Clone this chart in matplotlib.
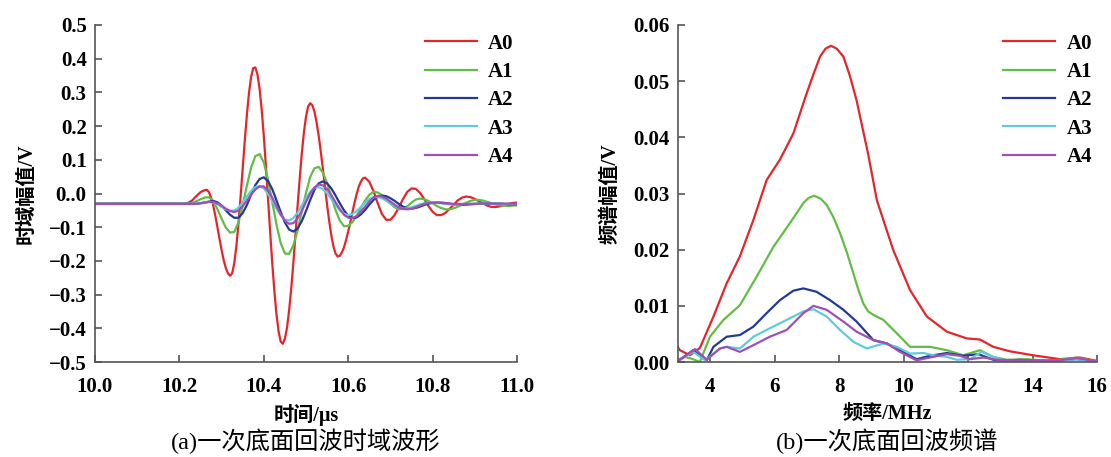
import numpy as np
import matplotlib.pyplot as plt

plt.rcParams['font.family'] = ['Liberation Serif', 'Noto Sans CJK SC']
plt.rcParams['axes.unicode_minus'] = True

# ----- (a) time-domain waveform, sampled every 0.01 us from 10.20 to 11.00 --
T_US = [10.0] + [round(10.20 + 0.01 * i, 2) for i in range(81)]
# A0 is read more finely (0.005 us) over its large swings
T_A0 = ([10.0] + [round(10.20 + 0.01 * i, 2) for i in range(7)]
        + [round(10.265 + 0.005 * i, 3) for i in range(76)]
        + [round(10.65 + 0.01 * i, 2) for i in range(36)])

A0_T = [-0.029,
        -0.029, -0.029, -0.028, -0.021, -0.008, 0.004, 0.010,
        0.011, 0.004, -0.012, -0.035, -0.065, -0.099, -0.134, -0.168, -0.198, -0.221,
        -0.237, -0.244, -0.237, -0.207, -0.156, -0.089, -0.010, 0.075, 0.158, 0.235,
        0.300, 0.346, 0.372, 0.374, 0.353, 0.311, 0.249, 0.171, 0.081, -0.016,
        -0.113, -0.206, -0.289, -0.358, -0.409, -0.439, -0.446, -0.431, -0.398, -0.347,
        -0.282, -0.206, -0.123, -0.038, 0.043, 0.118, 0.181, 0.228, 0.258, 0.268,
        0.262, 0.243, 0.212, 0.172, 0.125, 0.073, 0.019, -0.034, -0.082, -0.124,
        -0.157, -0.178, -0.187, -0.185, -0.175, -0.160, -0.138, -0.113, -0.085, -0.056,
        -0.027, -0.002, 0.020, 0.035, 0.045, 0.047,
        0.035, 0.007, -0.029, -0.061, -0.078,
        -0.078, -0.064, -0.041, -0.016, 0.005, 0.015, 0.014, 0.002, -0.016, -0.037,
        -0.054, -0.064, -0.064, -0.058, -0.046, -0.033, -0.020, -0.012, -0.009, -0.011,
        -0.016, -0.023, -0.030, -0.036, -0.040, -0.040, -0.038, -0.035, -0.031, -0.028,
        -0.027]
A1_T = [-0.030,
        -0.030, -0.030, -0.030, -0.028, -0.023, -0.017, -0.012, -0.011, -0.022, -0.046,
        -0.075, -0.101, -0.116, -0.114, -0.086, -0.035, 0.024, 0.077, 0.111, 0.117,
        0.092, 0.041, -0.025, -0.092, -0.147, -0.178, -0.179, -0.154, -0.110, -0.054,
        0.002, 0.049, 0.075, 0.079, 0.062, 0.031, -0.009, -0.049, -0.080, -0.097,
        -0.096, -0.085, -0.066, -0.043, -0.021, -0.004, 0.005, 0.003, -0.005, -0.017,
        -0.030, -0.041, -0.047, -0.045, -0.038, -0.027, -0.018, -0.015, -0.017, -0.022,
        -0.029, -0.037, -0.043, -0.047, -0.047, -0.044, -0.039, -0.033, -0.027, -0.022,
        -0.019, -0.019, -0.021, -0.025, -0.029, -0.033, -0.035, -0.036, -0.037, -0.036,
        -0.035]
A2_T = [-0.031,
        -0.031, -0.031, -0.030, -0.030, -0.030, -0.029, -0.027, -0.024, -0.022, -0.026,
        -0.036, -0.050, -0.063, -0.072, -0.072, -0.058, -0.034, -0.003, 0.025, 0.043,
        0.048, 0.037, 0.013, -0.020, -0.055, -0.086, -0.107, -0.113, -0.104, -0.082,
        -0.052, -0.019, 0.011, 0.030, 0.036, 0.030, 0.015, -0.006, -0.029, -0.050,
        -0.066, -0.073, -0.071, -0.062, -0.049, -0.033, -0.019, -0.010, -0.006, -0.008,
        -0.014, -0.022, -0.031, -0.039, -0.044, -0.045, -0.043, -0.039, -0.034, -0.030,
        -0.028, -0.027, -0.027, -0.028, -0.030, -0.032, -0.033, -0.034, -0.033, -0.032,
        -0.031, -0.030, -0.030, -0.030, -0.030, -0.030, -0.030, -0.031, -0.032, -0.033,
        -0.034]
A3_T = [-0.030,
        -0.030, -0.030, -0.030, -0.030, -0.030, -0.028, -0.026, -0.025, -0.027, -0.032,
        -0.040, -0.047, -0.051, -0.051, -0.042, -0.027, -0.009, 0.008, 0.019, 0.022,
        0.015, -0.001, -0.022, -0.045, -0.064, -0.077, -0.080, -0.073, -0.057, -0.036,
        -0.014, 0.005, 0.017, 0.019, 0.013, 0.000, -0.016, -0.034, -0.050, -0.060,
        -0.064, -0.061, -0.052, -0.040, -0.027, -0.017, -0.011, -0.011, -0.014, -0.021,
        -0.030, -0.037, -0.043, -0.045, -0.044, -0.041, -0.037, -0.032, -0.029, -0.027,
        -0.027, -0.028, -0.029, -0.031, -0.032, -0.033, -0.033, -0.032, -0.031, -0.031,
        -0.030, -0.030, -0.030, -0.030, -0.030, -0.030, -0.030, -0.031, -0.031, -0.032,
        -0.032]
A4_T = [-0.031,
        -0.031, -0.031, -0.031, -0.031, -0.031, -0.029, -0.027, -0.025, -0.025, -0.029,
        -0.036, -0.045, -0.052, -0.055, -0.051, -0.038, -0.021, -0.003, 0.012, 0.021,
        0.021, 0.009, -0.012, -0.037, -0.062, -0.081, -0.090, -0.088, -0.074, -0.052,
        -0.025, 0.000, 0.018, 0.027, 0.024, 0.013, -0.005, -0.026, -0.046, -0.063,
        -0.072, -0.073, -0.067, -0.054, -0.039, -0.024, -0.012, -0.007, -0.009, -0.015,
        -0.024, -0.033, -0.042, -0.046, -0.047, -0.045, -0.041, -0.036, -0.031, -0.028,
        -0.027, -0.027, -0.028, -0.029, -0.030, -0.031, -0.031, -0.031, -0.031, -0.031,
        -0.031, -0.030, -0.030, -0.030, -0.030, -0.030, -0.030, -0.030, -0.030, -0.030,
        -0.030]

# ----- (b) spectrum, read as (frequency MHz, amplitude V) ------------------
A0_F = [3.0, 3.06, 3.37, 3.68, 4.10, 4.51, 4.92, 5.34, 5.75, 6.16, 6.58, 6.99, 7.20,
        7.41, 7.58, 7.75, 7.92, 8.13, 8.33, 8.54, 8.72, 8.90, 9.17, 9.68, 10.20,
        10.72, 11.34, 11.96, 12.37, 12.78, 13.30, 14.02, 14.85, 15.47, 16.0]
A0_S = [0.0026, 0.0021, 0.0012, 0.0025, 0.0081, 0.0140, 0.0188, 0.0253, 0.0324,
        0.0360, 0.0407, 0.0478, 0.0512, 0.0544, 0.0558, 0.0563, 0.0558, 0.0544,
        0.0510, 0.0466, 0.0418, 0.0370, 0.0288, 0.0199, 0.0128, 0.0081, 0.0054,
        0.0042, 0.0040, 0.0027, 0.0019, 0.0012, 0.0005, 0.0008, 0.0002]
A1_F = [3.0, 3.2, 3.42, 3.68, 3.99, 4.41, 4.92, 5.44, 5.96, 6.47, 6.89, 7.05, 7.22,
        7.42, 7.61, 7.82, 8.03, 8.24, 8.44, 8.60, 8.75, 8.90, 9.06, 9.37, 9.79,
        10.20, 10.82, 11.34, 11.85, 12.37, 12.78, 13.20, 13.82, 14.44, 14.85, 15.37,
        16.0]
A1_S = [0.0004, 0.0009, 0.0006, 0.0000, 0.0045, 0.0075, 0.0101, 0.0152, 0.0205,
        0.0247, 0.0283, 0.0292, 0.0296, 0.0291, 0.0280, 0.0258, 0.0229, 0.0195,
        0.0158, 0.0128, 0.0104, 0.0090, 0.0084, 0.0075, 0.0051, 0.0027, 0.0027,
        0.0021, 0.0012, 0.0021, 0.0009, 0.0004, 0.0005, 0.0002, 0.0004, 0.0008,
        0.0001]
A2_F = [3.0, 3.06, 3.47, 3.89, 4.10, 4.51, 4.92, 5.34, 5.75, 6.16, 6.58, 6.89, 7.30,
        7.72, 8.13, 8.54, 9.06, 9.48, 9.89, 10.40, 10.82, 11.34, 11.85, 12.32,
        12.78, 13.20, 13.60, 14.20, 14.85, 15.37, 16.0]
A2_S = [0.0003, 0.0004, 0.0021, 0.0003, 0.0027, 0.0045, 0.0048, 0.0063, 0.0087,
        0.0110, 0.0127, 0.0131, 0.0125, 0.0110, 0.0093, 0.0072, 0.0039, 0.0033,
        0.0021, 0.0005, 0.0011, 0.0016, 0.0011, 0.0014, 0.0004, 0.0002, 0.0004,
        0.0001, 0.0003, 0.0005, 0.0001]
A3_F = [3.0, 3.06, 3.47, 3.84, 4.30, 4.51, 4.92, 5.34, 5.85, 6.37, 6.89, 7.20, 7.61,
        8.03, 8.44, 8.86, 9.37, 9.79, 10.20, 10.61, 10.93, 11.34, 11.65, 12.06,
        12.42, 12.78, 13.20, 14.0, 14.85, 15.37, 16.0]
A3_S = [0.0003, 0.0004, 0.0018, 0.0003, 0.0024, 0.0027, 0.0024, 0.0045, 0.0060,
        0.0075, 0.0090, 0.0094, 0.0081, 0.0057, 0.0036, 0.0024, 0.0033, 0.0027,
        0.0015, 0.0016, 0.0012, 0.0009, 0.0004, 0.0005, 0.0018, 0.0009, 0.0002,
        0.0002, 0.0003, 0.0005, 0.0001]
A4_F = [3.0, 3.06, 3.53, 3.89, 4.30, 4.51, 4.92, 5.34, 5.85, 6.37, 6.89, 7.20, 7.61,
        8.13, 8.54, 9.06, 9.48, 9.89, 10.40, 10.82, 11.34, 11.75, 12.06, 12.48,
        12.88, 13.5, 14.3, 14.85, 15.37, 16.0]
A4_S = [0.0003, 0.0004, 0.0023, 0.0004, 0.0024, 0.0027, 0.0018, 0.0030, 0.0045,
        0.0057, 0.0087, 0.0100, 0.0093, 0.0072, 0.0054, 0.0039, 0.0033, 0.0018,
        0.0003, 0.0008, 0.0014, 0.0011, 0.0005, 0.0008, 0.0004, 0.0003, 0.0003,
        0.0003, 0.0007, 0.0001]

LABELS = ['A0', 'A1', 'A2', 'A3', 'A4']
COLORS = ['#e4262b', '#62bd45', '#233a95', '#5fcbdc', '#a24fb5']

T_TICKS = [10.0, 10.2, 10.4, 10.6, 10.8, 11.0]
V_TICKS = [-0.5, -0.4, -0.3, -0.2, -0.1, 0.0, 0.1, 0.2, 0.3, 0.4, 0.5]
V_TICK_LABELS = ['\u22120.5', '\u22120.4', '\u22120.3', '\u22120.2', '\u22120.1',
                 '0..0', '0.1', '0.2', '0.3', '0.4', '0.5']
F_TICKS = [4, 6, 8, 10, 12, 14, 16]
S_TICKS = [0.00, 0.01, 0.02, 0.03, 0.04, 0.05, 0.06]

SERIF = ['Liberation Serif', 'Noto Sans CJK SC']

fig = plt.figure(figsize=(11.11, 4.57), dpi=100)
ax1 = fig.add_axes([95 / 1111, 95 / 457, 422 / 1111, 337 / 457])
ax2 = fig.add_axes([678 / 1111, 95 / 457, 419 / 1111, 337 / 457])


def style(ax):
    for s in ['top', 'right']:
        ax.spines[s].set_visible(False)
    for s in ['left', 'bottom']:
        ax.spines[s].set_color('#555555')
        ax.spines[s].set_linewidth(1.2)
    ax.tick_params(direction='in', length=5, width=1.2, color='#555555',
                   labelsize=15)
    ax.tick_params(axis='x', pad=11)
    ax.tick_params(axis='y', pad=6)
    for lab in ax.get_xticklabels() + ax.get_yticklabels():
        lab.set_fontweight('bold')
        lab.set_family(SERIF)


# (a)
t_axes = [T_A0, T_US, T_US, T_US, T_US]
series_t = [A0_T, A1_T, A2_T, A3_T, A4_T]
for tt, vals, lab, c in zip(t_axes, series_t, LABELS, COLORS):
    ax1.plot(tt, vals, color=c, lw=1.6, label=lab)
ax1.set_xlim(10.0, 11.0)
ax1.set_ylim(-0.5, 0.5)
ax1.set_xticks(T_TICKS)
ax1.set_xticklabels([f'{t:.1f}' for t in T_TICKS])
ax1.set_yticks(V_TICKS)
ax1.set_yticklabels(V_TICK_LABELS)
style(ax1)
ax1.set_xlabel('时间/μs', fontsize=14.5, fontweight='bold', family=SERIF, labelpad=5)
ax1.set_ylabel('时域幅值/V', fontsize=14.5, fontweight='bold', family=SERIF, labelpad=9)

# (b)
series_f = [(A0_F, A0_S), (A1_F, A1_S), (A2_F, A2_S), (A3_F, A3_S), (A4_F, A4_S)]
for (f, s), lab, c in zip(series_f, LABELS, COLORS):
    ax2.plot(f, s, color=c, lw=1.6, label=lab)
ax2.set_xlim(3, 16)
ax2.set_ylim(0, 0.06)
ax2.set_xticks(F_TICKS)
ax2.set_xticklabels([str(f) for f in F_TICKS])
ax2.set_yticks(S_TICKS)
ax2.set_yticklabels([f'{v:.2f}' for v in S_TICKS])
style(ax2)
ax2.set_xlabel('频率/MHz', fontsize=14.5, fontweight='bold', family=SERIF, labelpad=5)
ax2.set_ylabel('频谱幅值/V', fontsize=14.5, fontweight='bold', family=SERIF, labelpad=9)

for ax, bx in ((ax1, 1.037), (ax2, 1.033)):
    ax.legend(loc='upper right', bbox_to_anchor=(bx, 1.03), frameon=False,
              handlelength=2.5, labelspacing=0.4, handletextpad=0.55,
              prop={'family': SERIF, 'weight': 'bold', 'size': 15})

fig.text(306 / 1111, 1 - 441 / 457, '(a)一次底面回波时域波形', ha='center', va='center',
         fontsize=17.5, family=SERIF)
fig.text(887 / 1111, 1 - 441 / 457, '(b)一次底面回波频谱', ha='center', va='center',
         fontsize=17.5, family=SERIF)

fig.savefig('out.png', dpi=100)
